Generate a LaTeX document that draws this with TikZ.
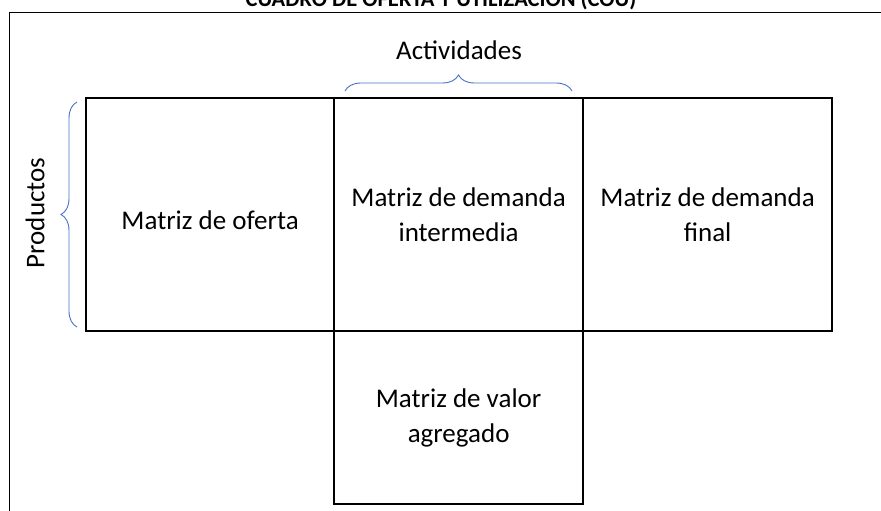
\documentclass[tikz,border=0pt]{standalone}
\usepackage{fontspec}
\setmainfont{Carlito}
\usetikzlibrary{decorations.pathreplacing}
\definecolor{llave}{RGB}{68,114,196}

\begin{document}
\begin{tikzpicture}[x=1pt,y=1pt,font=\fontsize{27}{35}\selectfont]
            \tikzset{celda/.style={draw,line width=2.2pt,minimum width=249pt,anchor=north west,align=center,inner sep=0pt,
                        execute at begin node={\rule{0pt}{30pt}}},
                     llaves/.style={draw=llave,line width=0.9pt,decorate,decoration={brace,amplitude=16pt}}}
            \useasboundingbox (0,0) rectangle (881,511);
            % marco y titulo
            \draw[line width=1.6pt] (9.5,0) -- (9.5,498.3) -- (881,498.3);
            \node[anchor=base,font=\bfseries\fontsize{22.5}{27}\selectfont] (titulo) at (441,504) {CUADRO DE OFERTA Y UTILIZACIÓN (COU)};
            % celdas
            \node[celda,minimum width=248pt,minimum height=233pt] (oferta) at (85,414) {Matriz de oferta};
            \node[celda,minimum height=233pt] (interm) at (333,414) {Matriz de demanda\\intermedia};
            \node[celda,minimum height=233pt] (final) at (582,414) {Matriz de demanda\\final};
            \node[celda,minimum height=173pt] (valor) at (333,181) {Matriz de valor\\agregado};
            % llaves
            \draw[llaves] (77,184) -- (77,409);
            \draw[llaves] (345,420) -- (572,420);
            \node[rotate=90] (prod) at (35,298) {Productos};
            \node (activ) at (459,461) {Actividades};
        \end{tikzpicture}
\end{document}
